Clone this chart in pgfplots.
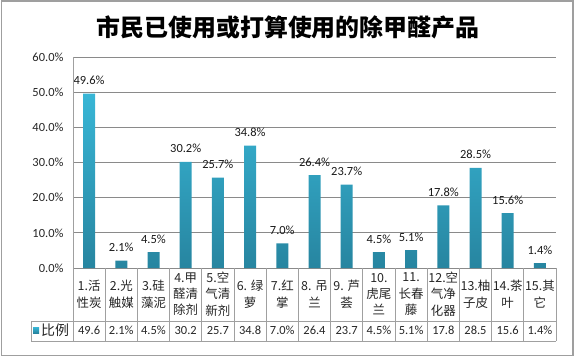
\documentclass[border=0pt]{standalone}
\usepackage{pgfplots}
\pgfplotsset{compat=1.18}
\usepackage{fontspec}
\setmainfont{Carlito}
\newfontfamily\cjk{Noto Sans CJK SC}
\definecolor{barTop}{HTML}{38B6D6}
\definecolor{barBot}{HTML}{2785A0}
\definecolor{gridc}{HTML}{8A8A8A}
\definecolor{tabc}{HTML}{A0A0A0}
\begin{document}
\begin{tikzpicture}
\useasboundingbox (0,0) rectangle (576bp,357bp);
\draw[gray!75, line width=1.2bp] (1.5bp,1.5bp) rectangle (573bp,356bp);
\node[font=\cjk\bfseries\fontsize{24}{24}\selectfont, text=black] at (288bp,330bp) {市民已使用或打算使用的除甲醛产品};
\begin{axis}[
  at={(73bp,89bp)}, anchor=south west,
  scale only axis, width=483bp, height=211bp,
  xmin=0.5, xmax=15.5, ymin=0, ymax=60,
  ytick={0,10,...,60},
  xtick={1,...,15},
  xticklabels={{1.活\\性炭},{2.光\\触媒},{3.硅\\藻泥},{4.甲\\醛清\\除剂},{5.空\\气清\\新剂},{6. 绿\\萝},{7.红\\掌},{8. 吊\\兰},{9. 芦\\荟},{10.\\虎尾\\兰},{11.\\长春\\藤},{12.空\\气净\\化器},{13.柚\\子皮},{14.茶\\叶},{15.其\\它}},
  xticklabel style={font=\cjk\fontsize{12.5}{16.5}\selectfont, align=center, anchor=north, minimum height=52bp, inner sep=0pt, text=black!85},
  extra x ticks={1,...,15},
  extra x tick labels={49.6,2.1\%,4.5\%,30.2,25.7,34.8,7.0\%,26.4,23.7,4.5\%,5.1\%,17.8,28.5,15.6,1.4\%},
  extra x tick style={grid=none, xticklabel style={yshift=-52bp, minimum height=20bp, font=\fontsize{12.5}{12.5}\selectfont}},
  /pgf/number format/assume math mode=true,
  yticklabel={\pgfmathprintnumber[fixed,fixed zerofill,precision=1]{\tick}\%},
  yticklabel style={font=\fontsize{12.5}{12.5}\selectfont, text=black!85, xshift=-6bp},
  ymajorgrids, grid style={gridc, line width=0.9bp},
  axis line style={draw=none},
  major tick length=0pt,
  clip=false,
  nodes near coords={\pgfmathprintnumber[fixed,fixed zerofill,precision=1]{\pgfplotspointmeta}\%},
  nodes near coords style={font=\fontsize{12.5}{12.5}\selectfont, text=black!90, anchor=base, yshift=9bp, inner sep=0pt},
  legend style={draw=none, fill=none, at={(-0.0828,-0.294)}, anchor=west, inner sep=0pt, font=\cjk\fontsize{14}{14}\selectfont, text=black!85},
  legend image code/.code={\fill[barTop!80!barBot] (0bp,-3bp) rectangle (6bp,3bp);},
]
\addplot[ybar, bar width=12bp, draw=none, top color=barTop, bottom color=barBot] coordinates {
(1,49.6) (2,2.1) (3,4.5) (4,30.2) (5,25.7) (6,34.8) (7,7.0) (8,26.4) (9,23.7) (10,4.5) (11,5.1) (12,17.8) (13,28.5) (14,15.6) (15,1.4)};
\addlegendentry{比例}
\end{axis}
% table lines
\draw[tabc, line width=0.9bp] (73bp,300bp) -- (73bp,16bp);
\draw[tabc, line width=0.9bp] (31bp,36bp) -- (556bp,36bp);
\draw[tabc, line width=0.9bp] (31bp,16bp) -- (556bp,16bp);
\draw[tabc, line width=0.9bp] (31bp,36bp) -- (31bp,16bp);
\foreach \k in {1,...,15} {
  \pgfmathsetmacro{\xx}{73+32.2*\k}
  \draw[tabc, line width=0.9bp] (\xx bp,89bp) -- (\xx bp,16bp);
}
\end{tikzpicture}
\end{document}
